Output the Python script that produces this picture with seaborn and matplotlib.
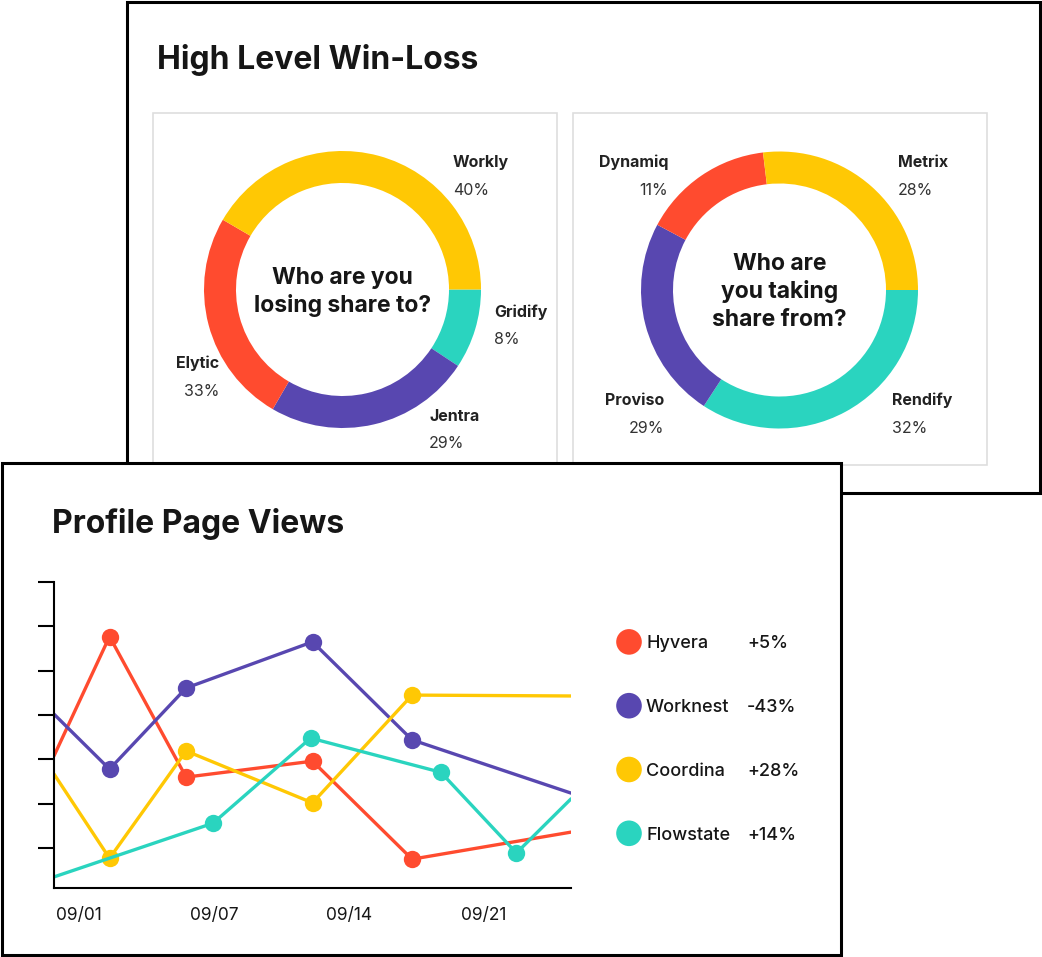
import matplotlib
matplotlib.use("Agg")
import matplotlib.pyplot as plt
from matplotlib.patches import Rectangle
import numpy as np
import pandas as pd
import seaborn as sns

# ---------------- data ----------------
lose_labels = ["Gridify", "Jentra", "Elytic", "Workly"]
lose_pct_text = ["8%", "29%", "33%", "40%"]
lose_sizes = [9.3, 24.1, 25.0, 41.6]

take_labels = ["Rendify", "Proviso", "Dynamiq", "Metrix"]
take_pct_text = ["32%", "29%", "11%", "28%"]
take_sizes = [34.2, 23.6, 15.3, 26.9]

series_names = ["Hyvera", "Worknest", "Coordina", "Flowstate"]
series_change = ["+5%", "-43%", "+28%", "+14%"]
hyvera_x = [0, 2.9, 6.9, 13.5, 18.7, 27.0]
hyvera_y = [3.08, 5.77, 2.60, 2.96, 0.75, 1.36]
worknest_x = [0, 2.9, 6.9, 13.5, 18.7, 27.0]
worknest_y = [4.02, 2.78, 4.61, 5.65, 3.44, 2.24]
coordina_x = [0, 2.9, 6.9, 13.5, 18.7, 27.0]
coordina_y = [2.67, 0.77, 3.19, 2.02, 4.45, 4.43]
flowstate_x = [0, 8.3, 13.4, 20.2, 24.15, 27.0]
flowstate_y = [0.35, 1.56, 3.48, 2.71, 0.89, 2.11]
date_ticks = [1.3, 8.35, 15.4, 22.45]
date_labels = ["09/01", "09/07", "09/14", "09/21"]
y_ticks = [1, 2, 3, 4, 5, 6, 7]

# ---------------- style ----------------
RED, PURPLE, YELLOW, TEAL = "#FF4B2F", "#5847B0", "#FFC804", "#2AD4BF"
INK = "#161616"
sns.set_style("white")
plt.rcParams["font.family"] = ["Inter", "DejaVu Sans"]

W, H = 1042, 957
fig = plt.figure(figsize=(W / 100, H / 100), dpi=100)
fig.patch.set_facecolor("white")


def fx(x):
    return x / W


def fy(y):
    return 1 - y / H


bg = fig.add_axes([0, 0, 1, 1])
bg.set_xlim(0, W)
bg.set_ylim(H, 0)
bg.axis("off")

# cards
bg.add_patch(Rectangle((126.5, 1.5), 1040 - 126.5, 492.5 - 1.5, fc="white", ec="black", lw=2.2, zorder=1))
bg.add_patch(Rectangle((152.5, 113), 556.5 - 152.5, 365, fc="none", ec="#DEDEDE", lw=1.2, zorder=2))
bg.add_patch(Rectangle((572.5, 113), 987 - 572.5, 465 - 113, fc="none", ec="#DEDEDE", lw=1.2, zorder=2))
bg.add_patch(Rectangle((1.5, 463), 841 - 1.5, 954.5 - 463, fc="white", ec="black", lw=2.2, zorder=5))

bg.text(157, 69, "High Level Win-Loss", fontsize=23, weight="bold", color=INK, ha="left", va="baseline", zorder=10)
bg.text(52, 533, "Profile Page Views", fontsize=23, weight="bold", color=INK, ha="left", va="baseline", zorder=10)

# ---------------- donuts ----------------
R = 138.5


def donut(cx, cy, sizes, colors, center_text, center_baselines):
    half = 160
    a = fig.add_axes([fx(cx - half), fy(cy + half), 2 * half / W, 2 * half / H])
    a.pie(sizes, colors=colors, startangle=0, counterclock=False, radius=1,
          wedgeprops=dict(width=0.231, linewidth=0))
    a.set_xlim(-half / R, half / R)
    a.set_ylim(-half / R, half / R)
    a.set_aspect("equal")
    a.axis("off")
    for line, yb in zip(center_text, center_baselines):
        bg.text(cx, yb, line, fontsize=16.5, weight="bold", color=INK, ha="center", va="baseline", zorder=10)


donut(342.5, 289.5, lose_sizes, [TEAL, PURPLE, RED, YELLOW],
      ["Who are you", "losing share to?"], [284, 311.7])
donut(779.5, 290, take_sizes, [TEAL, PURPLE, RED, YELLOW],
      ["Who are", "you taking", "share from?"], [270, 298, 326])

# donut labels: (x, name baseline, pct baseline, ha)
lose_pos = [(494, 316.7, 344, "left"), (429, 421, 448, "left"), (219, 368, 396, "right"), (453, 167, 195, "left")]
take_pos = [(892, 405, 433, "left"), (664, 405, 433, "right"), (668, 167, 195, "right"), (898, 167, 195, "left")]
for labels, pcts, pos in [(lose_labels, lose_pct_text, lose_pos), (take_labels, take_pct_text, take_pos)]:
    for lab, pct, (x, y1, y2, ha) in zip(labels, pcts, pos):
        bg.text(x, y1, lab, fontsize=11.5, weight="bold", color="#222222", ha=ha, va="baseline", zorder=10)
        bg.text(x, y2, pct, fontsize=11.5, color="#333333", ha=ha, va="baseline", zorder=10)

# ---------------- line chart ----------------
ax = fig.add_axes([fx(54), fy(888), (571 - 54) / W, (888 - 582) / H])
ax.set_facecolor("none")
xs_all = [hyvera_x, worknest_x, coordina_x, flowstate_x]
ys_all = [hyvera_y, worknest_y, coordina_y, flowstate_y]
cols = [RED, PURPLE, YELLOW, TEAL]
for xs, ys, c in zip(xs_all, ys_all, cols):
    df = pd.DataFrame({"x": xs, "y": ys})
    sns.lineplot(data=df, x="x", y="y", ax=ax, color=c, linewidth=2.4, marker="o",
                 markersize=12.5, markeredgewidth=0, markevery=list(range(1, len(xs) - 1)),
                 sort=False, estimator=None)
ax.set_xlim(0, 27)
ax.set_ylim(0.1, 7.0)
ax.set_xlabel("")
ax.set_ylabel("")
ax.set_yticks(y_ticks)
ax.set_yticklabels([])
ax.set_xticks(date_ticks)
ax.set_xticklabels(date_labels, fontsize=12.5, color=INK)
ax.tick_params(axis="x", bottom=False, length=0, pad=14)
ax.tick_params(axis="y", left=True, length=11.5, width=1.5, color="black", direction="out")
for s in ["top", "right"]:
    ax.spines[s].set_visible(False)
for s in ["left", "bottom"]:
    ax.spines[s].set_color("black")
    ax.spines[s].set_linewidth(1.5)

# ---------------- legend ----------------
leg = fig.add_axes([fx(600), fy(865.2), 240 / W, 255.2 / H])
leg.set_xlim(0, 240)
leg.set_ylim(3.5, -0.5)
leg.axis("off")
leg_df = pd.DataFrame({"row": range(len(series_names)), "name": series_names})
sns.scatterplot(data=leg_df, x=[29] * len(series_names), y="row", hue="name",
                palette=dict(zip(series_names, cols)), s=340, linewidth=0, legend=False, ax=leg)
for i, (n, v) in enumerate(zip(series_names, series_change)):
    leg.text(46, i, n, fontsize=13, weight="medium", color=INK, ha="left", va="center_baseline")
    leg.text(147, i, v, fontsize=13, weight="medium", color=INK, ha="left", va="center_baseline")

fig.savefig("out.png", dpi=100, facecolor="white")
